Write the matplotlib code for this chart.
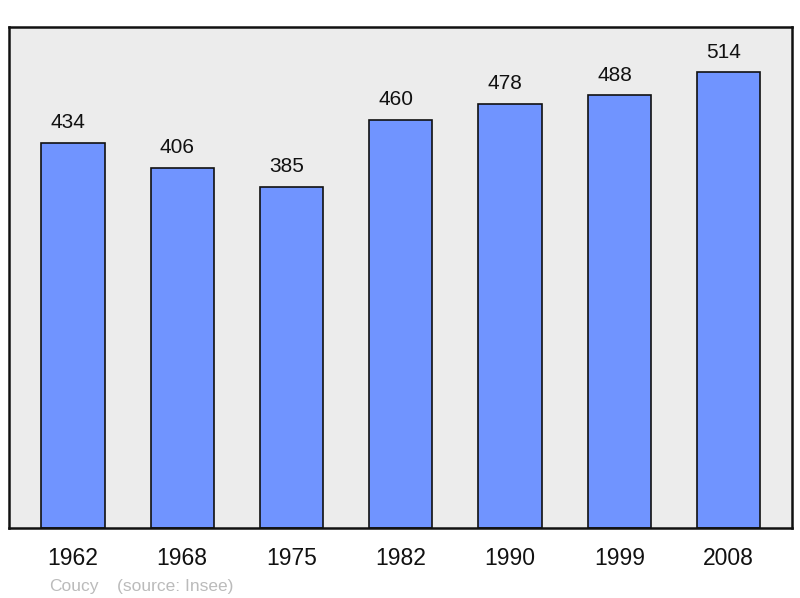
import matplotlib.pyplot as plt

plt.rcParams['font.family'] = ['Liberation Sans', 'DejaVu Sans']

years = ['1962', '1968', '1975', '1982', '1990', '1999', '2008']
population = [434, 406, 385, 460, 478, 488, 514]

fig = plt.figure(figsize=(8, 5.98), dpi=100)
ax = fig.add_axes([0.01125, 0.117, 0.97875, 0.838])
ax.set_facecolor('#ececec')

x = range(len(years))
ax.bar(x, population, width=0.58, color='#7094ff', edgecolor='#111111', linewidth=1.2, zorder=2)

# value labels sit a little left of the bar centre, as in the original
for i, v in zip(x, population):
    ax.annotate(str(v), (i, v), xytext=(-3.5, 14.5), textcoords='offset points',
                ha='center', va='center', fontsize=15, color='#111111')

ax.set_xlim(-0.585, 6.58)
ax.set_ylim(0, 565)
ax.set_xticks(list(x))
ax.set_xticklabels(years, fontsize=16.5, color='#111111')
ax.tick_params(axis='x', length=0, pad=13.5)
ax.set_yticks([])
for s in ax.spines.values():
    s.set_linewidth(1.8)
    s.set_color('#111111')

fig.text(49 / 800, 1 - 586 / 598, 'Coucy', fontsize=12.5, color='#bbbbbb', va='center', ha='left')
fig.text(117 / 800, 1 - 586 / 598, '(source: Insee)', fontsize=12.5, color='#bbbbbb', va='center', ha='left')

fig.savefig('out.png', dpi=100)
